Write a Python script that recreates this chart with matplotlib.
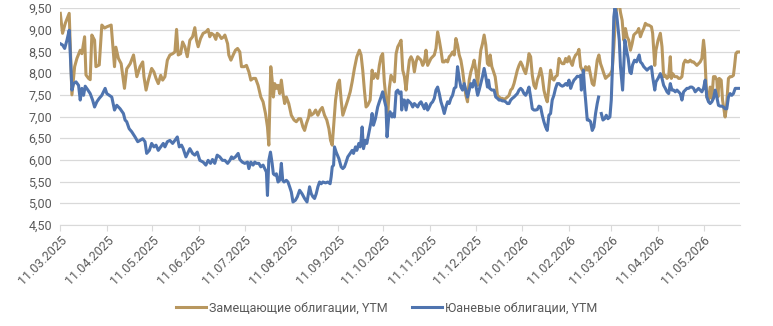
import matplotlib
matplotlib.use("Agg")
import matplotlib.pyplot as plt
import matplotlib.dates as mdates
import numpy as np
import pandas as pd

plt.rcParams['font.family'] = ['Roboto', 'DejaVu Sans']

start = pd.Timestamp("2025-03-11")

# days since 11.03.2025 and YTM, %
gold_days = [
    0.0, 1.5, 3.3, 5.9, 7.7, 9.5, 11.0, 13.2, 14.3, 16.1, 17.0, 18.7, 19.8, 20.9, 22.7, 23.6,
    25.8, 27.5, 29.3, 30.8, 33.7, 35.9, 36.8, 38.5, 40.3, 42.5, 44.0, 46.3, 48.5, 50.7,
    52.8, 54.6, 55.4, 56.8, 58.3, 60.5, 62.0, 63.4, 64.9, 66.5, 67.8, 69.3, 70.9, 72.6, 74.4,
    75.9, 77.0, 78.1, 79.7, 81.0, 82.5, 84.1, 85.8, 87.6, 89.1, 90.2, 91.3, 92.9, 94.6, 96.4,
    97.9, 99.0, 100.1, 101.7, 103.0, 103.9, 105.2, 106.7, 108.3,
    109.0, 110.8, 111.6, 113.0, 114.5, 116.0, 117.4, 118.9, 120.0, 121.8, 123.3, 124.9, 126.2,
    127.7, 129.3, 131.0, 132.8, 134.3, 135.9, 137.2, 138.1, 139.4, 140.3, 141.1, 142.0, 143.1,
    144.2, 145.3, 146.4, 147.5, 148.6, 149.7, 151.3, 153.0, 154.8, 156.3, 157.9, 159.2, 160.7,
    161.8, 163.0, 164.5,
    165.1, 166.2, 167.7, 169.1, 170.6, 172.1, 173.5, 175.0, 176.5, 177.9, 179.0, 180.1, 181.0,
    182.3, 183.8, 184.9, 186.0, 187.1, 188.9, 190.4, 192.0, 193.3, 194.8, 196.4, 198.1, 199.2,
    200.3, 201.4, 202.5, 203.6, 205.2, 206.5, 207.4, 208.7, 210.2, 211.3, 212.4, 213.5, 214.6,
    215.7, 216.8, 217.9, 219.0, 220.1,
    221.3, 222.4, 223.5, 224.6, 225.7, 226.8, 227.9, 229.0, 230.1, 231.2, 232.3, 233.4, 234.5,
    235.6, 236.7, 237.8, 238.9, 240.0, 241.1, 242.2, 243.3, 244.4, 245.5, 246.6, 247.7, 248.8,
    249.9, 251.0, 252.1, 253.2, 254.3, 255.4, 256.5, 257.6, 258.7, 259.8, 260.9, 262.0, 263.1,
    264.2, 265.3, 266.4, 267.5, 268.6, 269.7, 270.8, 271.9, 273.0, 274.1, 275.2, 276.4,
    277.4, 278.5, 279.6, 280.7, 281.8, 282.9, 284.0, 284.7, 285.8, 286.6, 288.0, 288.9, 289.5,
    290.6, 291.7, 292.8, 293.9, 295.0, 296.1, 297.2, 298.3, 299.4, 300.5, 301.6, 302.7, 303.8,
    304.9, 306.0, 307.1, 308.2, 309.3, 310.4, 311.5, 312.6, 313.7, 314.8, 315.9, 317.0, 318.1,
    319.2, 320.3, 321.4, 322.5, 323.6, 324.7, 325.8, 326.9, 328.0, 329.1, 330.3, 331.4, 332.5,
    333.6, 334.7, 335.8, 336.9, 338.0, 339.1, 340.2, 341.3, 342.4, 343.5, 344.6, 345.7, 346.8,
    347.9, 349.0, 350.1, 351.2, 352.3, 353.4, 354.5, 355.6, 356.7, 357.8, 358.9, 360.0, 361.1,
    362.2, 363.3, 364.4, 365.5, 366.6, 367.7, 368.8, 370.2, 371.0, 372.1, 373.2, 374.3, 375.4,
    376.5, 377.6, 378.7, 379.8, 380.9, 382.0, 383.1, 384.2, 385.3, 386.4, 387.5, 388.6,
    389.7, 391.5, 392.3, 393.7, 394.5, 395.9, 397.4, 398.5, 399.6, 400.7, 401.8, 402.9, 404.0,
    404.7, 405.6, 406.9, 408.4, 409.5, 410.6, 411.7, 412.8, 413.9, 415.0, 416.1, 417.2, 418.3,
    419.4, 420.5, 421.6, 422.7, 423.8, 424.9, 426.0, 426.7, 427.6, 428.2, 429.3, 430.4, 431.5,
    432.6, 433.7, 434.8, 435.5, 436.4, 437.7, 438.6, 439.5, 440.3, 441.2, 442.5, 443.6, 444.7,
    445.8, 446.5, 447.4, 448.3, 449.2,
]
gold_ytm = [
    9.38, 8.92, 9.15, 9.38, 7.50, 8.15, 8.34, 8.53, 8.45, 8.84, 7.96, 7.88, 7.85, 8.88, 8.76, 8.15,
    8.19, 9.11, 9.04, 9.07, 9.11, 8.15, 8.60, 8.34, 8.22, 7.65, 8.10, 8.22, 8.42, 7.92,
    8.15, 8.26, 7.92, 7.61, 7.84, 8.11, 8.03, 7.88, 7.76, 7.95, 7.84, 7.92, 8.30, 8.42, 8.45,
    8.49, 9.01, 8.42, 8.45, 8.72, 8.61, 8.38, 8.76, 8.84, 9.05, 8.76, 8.61, 8.80, 8.92, 8.95,
    9.01, 8.84, 8.92, 8.88, 8.78, 8.92, 8.88, 8.80, 8.84,
    8.88, 8.68, 8.42, 8.30, 8.42, 8.53, 8.57, 8.49, 8.15, 8.15, 8.18, 8.03, 7.84,
    7.88, 7.88, 7.72, 7.45, 7.34, 7.07, 6.76, 6.34, 8.15, 7.84, 7.45, 7.76, 7.65,
    7.72, 7.53, 7.84, 7.53, 7.30, 7.45, 7.30, 7.03, 6.92, 6.88, 6.95, 6.95, 6.76,
    6.68, 6.84, 6.99,
    7.15, 7.03, 7.07, 7.15, 7.03, 7.15, 7.21, 7.03, 6.92, 6.72, 6.45, 6.34, 6.76,
    7.38, 7.76, 7.84, 7.38, 7.03, 7.22, 7.38, 7.57, 7.80, 8.11, 8.38, 8.53, 8.42,
    8.07, 7.61, 7.22, 7.26, 7.38, 8.07, 7.88, 7.99, 7.88, 8.18, 8.38, 8.45, 7.80,
    7.42, 6.99, 7.65, 7.95, 7.88,
    7.80, 8.45, 8.61, 8.68, 8.76, 8.07, 7.92, 7.61, 7.99, 8.30, 8.38, 8.30, 8.03,
    8.26, 8.38, 8.34, 8.30, 8.18, 8.26, 8.53, 8.18, 8.26, 8.34, 8.38, 8.42, 8.57,
    8.95, 8.76, 8.53, 8.26, 8.26, 8.30, 8.26, 8.38, 8.42, 8.49, 8.42, 8.80, 8.65,
    8.42, 8.30, 8.07, 7.76, 7.49, 7.34, 7.84, 8.03, 8.15, 8.30, 8.07, 7.72,
    8.15, 8.53, 8.68, 8.88, 8.65, 8.22, 8.18, 8.42, 8.15, 8.07, 7.92, 7.68, 7.49,
    7.45, 7.42, 7.42, 7.39, 7.42, 7.45, 7.49, 7.61, 7.65, 7.76, 7.92, 8.07, 8.18,
    8.26, 8.18, 8.07, 7.99, 8.18, 8.45, 8.38, 7.95, 7.72, 7.65, 7.84, 7.95, 8.11,
    7.92, 7.61, 7.45, 7.34, 7.68, 8.07, 7.88, 7.84, 7.92, 7.95, 8.34, 8.26, 8.22,
    8.22, 8.34, 8.26, 8.38, 8.26, 8.18, 8.34, 8.42, 8.45, 8.55, 8.15, 8.07, 8.03,
    8.15, 8.07, 8.15, 7.95, 7.76, 7.72, 7.99, 8.30, 8.42, 8.22, 8.11, 7.99, 7.88,
    7.92, 7.95, 7.99, 8.07, 8.60, 9.30, 9.60, 9.60, 9.40, 9.22, 8.76, 9.03, 8.84,
    8.76, 8.53, 8.68, 8.88, 8.92, 8.95, 9.03, 8.84, 8.95, 9.03, 9.15, 9.11,
    9.11, 9.07, 8.92, 8.18, 8.53, 8.76, 8.92, 8.61, 7.92, 7.95, 7.88, 7.92, 8.38,
    7.88, 7.99, 7.92, 7.92, 7.88, 7.88, 7.92, 8.22, 8.30, 8.26, 8.26, 8.30, 8.26,
    8.26, 8.22, 8.18, 8.22, 8.26, 8.34, 8.76, 8.53, 7.84, 7.45, 7.38, 7.68, 7.42,
    7.92, 7.92, 7.84, 7.45, 7.88, 7.84, 7.38, 7.18, 6.99, 7.22, 7.88, 7.92, 7.92,
    7.95, 8.15, 8.45, 8.49, 8.49,
]

blue_days = [
    0.0, 1.5, 2.9, 4.4, 5.9, 7.7, 8.8, 10.4, 12.1, 13.2, 14.3, 15.4, 16.5, 18.3, 19.8, 21.4,
    22.7, 24.2, 25.8, 27.5, 28.6, 29.7, 30.8, 32.4, 34.1, 35.9, 37.4, 39.6, 41.8, 42.9, 44.0,
    45.6, 47.3, 49.5, 51.3,
    52.8, 54.6, 56.1, 57.2, 59.0, 60.5, 62.0, 63.4, 64.9, 66.5, 68.2, 69.3, 70.9, 72.6, 74.4,
    75.9, 77.5, 78.8, 80.3, 81.4, 83.2, 84.7, 85.8, 87.6, 89.1, 90.7, 92.4, 94.6, 96.4, 97.9,
    99.5, 100.8, 102.3, 103.9, 105.6, 107.4,
    109.0, 110.8, 112.3, 113.4, 114.5, 116.0, 117.8, 118.9, 120.5, 122.2, 124.0, 124.9, 126.2,
    127.7, 128.8, 129.9, 131.5, 132.8, 134.3, 135.4, 136.5, 137.2, 138.1, 139.2, 140.3, 141.1,
    142.0, 143.1, 144.2, 145.3, 146.4, 147.3, 148.2, 149.7, 150.8, 151.9, 153.0, 154.1, 155.7,
    157.0, 158.5, 160.1, 161.8, 163.4, 164.5,
    165.1, 166.2, 167.3, 168.4, 169.5, 170.6, 171.7, 172.8, 173.9, 175.7, 177.2, 178.7, 179.4,
    180.1, 181.0, 181.6, 182.7, 184.5, 186.0, 187.1, 188.2, 189.3, 190.4, 192.0, 193.3, 194.2,
    195.5, 196.4, 197.7, 198.6, 199.2, 199.9, 200.8, 202.1, 203.0, 204.3, 205.8, 206.5, 207.4,
    208.7, 210.2, 211.3, 212.4, 213.5, 214.6, 215.7, 216.4, 217.5, 218.4, 219.7, 220.6,
    221.3, 222.4, 223.5, 224.6, 225.7, 226.1, 226.8, 227.9, 229.0, 230.1, 231.2, 232.3, 233.4,
    234.5, 235.6, 236.7, 237.8, 238.9, 240.0, 241.1, 242.2, 243.3, 244.4, 245.5, 246.6, 247.7,
    248.8, 249.9, 251.0, 252.1, 253.2, 254.3, 255.4, 256.5, 257.6, 258.7, 259.8, 260.9, 262.0,
    263.1, 264.2, 265.3, 266.4, 267.5, 268.6, 269.7, 270.8, 271.9, 273.0, 274.1, 275.2, 276.4,
    277.4, 278.5, 279.6, 280.7, 281.8, 282.9, 283.6, 284.4, 285.8, 287.3, 288.4, 289.5, 290.6,
    291.7, 292.8, 293.9, 295.0, 296.1, 297.2, 298.3, 299.4, 300.5, 301.6, 302.7, 303.8, 304.9,
    306.0, 307.1, 308.2, 309.3, 310.4, 311.5, 312.6, 313.7, 314.8, 315.9, 317.0, 318.1, 319.2,
    320.3, 321.4, 322.5, 323.6, 324.7, 325.8, 326.9, 328.0, 329.1, 330.3, 331.4, 332.5,
    333.6, 334.7, 335.8, 336.9, 338.0, 339.1, 340.2, 341.3, 342.4, 343.5, 344.6, 345.1, 345.7,
    346.4, 347.3, 347.9, 349.0, 350.1, 351.2, 352.3, 353.4, 354.5, 355.6, 356.5, 357.4, 358.3,
    359.4, 360.5, 361.6, 362.7, 364.0, 364.9, 365.7, 366.6, 367.3, 368.4, 369.3, 370.2, 371.0,
    372.4, 373.2, 373.9, 375.0, 376.1, 377.2, 378.1, 379.0, 380.3, 381.6, 382.5, 383.4, 384.2,
    385.3, 386.4, 387.5, 388.6,
    389.7, 391.5, 392.3, 393.7, 394.5, 395.9, 397.4, 398.5, 399.6, 400.7, 401.8, 402.9, 404.0,
    405.1, 406.2, 407.3, 408.4, 409.5, 410.6, 411.7, 412.8, 413.9, 415.0, 416.1, 417.2, 418.3,
    419.4, 420.5, 421.6, 422.7, 423.8, 424.9, 426.0, 427.1, 428.2, 429.3, 430.4, 431.5, 432.6,
    433.7, 434.8, 435.9, 437.0, 438.1, 439.2, 440.3, 441.4, 442.5, 443.6, 444.7, 445.8, 447.0,
    448.1, 449.2,
]
blue_ytm = [
    8.68, 8.65, 8.57, 8.76, 8.99, 7.61, 7.76, 7.80, 7.72, 7.38, 7.65, 7.49, 7.70, 7.61, 7.53, 7.38,
    7.22, 7.34, 7.42, 7.49, 7.57, 7.65, 7.53, 7.49, 7.45, 7.15, 7.26, 7.18, 7.07, 6.92, 6.88,
    6.72, 6.65, 6.53, 6.42,
    6.45, 6.49, 6.42, 6.15, 6.22, 6.38, 6.30, 6.34, 6.22, 6.30, 6.38, 6.30, 6.42, 6.45, 6.38,
    6.45, 6.53, 6.30, 6.34, 6.26, 6.07, 6.18, 6.26, 6.15, 6.11, 6.18, 5.99, 5.95, 5.88, 5.99,
    5.92, 6.01, 5.92, 6.11, 6.07, 5.99,
    5.99, 5.92, 5.99, 6.07, 6.03, 6.07, 6.15, 6.01, 5.95, 5.92, 5.95, 5.80, 5.95,
    5.88, 5.95, 5.92, 5.92, 5.84, 5.88, 5.80, 5.72, 5.18, 5.99, 6.18, 5.92, 5.68,
    5.65, 5.68, 5.49, 5.53, 5.92, 5.53, 5.49, 5.53, 5.49, 5.38, 5.26, 5.03, 5.07,
    5.15, 5.30, 5.22, 5.11, 5.03, 5.26,
    5.38, 5.22, 5.15, 5.11, 5.22, 5.38, 5.49, 5.45, 5.49, 5.47, 5.49, 5.45, 5.61,
    5.84, 5.88, 6.30, 6.18, 6.03, 5.84, 5.80, 5.84, 5.95, 6.07, 6.15, 6.22, 6.15,
    6.30, 6.22, 6.38, 6.30, 6.45, 6.76, 6.26, 6.45, 6.38, 6.61, 6.88, 7.07, 6.80,
    6.95, 7.22, 7.34, 7.45, 7.57, 7.38, 7.22, 6.53, 6.99, 7.11, 6.99, 7.07,
    6.99, 7.57, 7.61, 7.53, 7.57, 7.15, 7.38, 7.38, 7.15, 7.38, 7.34, 7.30, 7.22,
    7.30, 7.26, 7.22, 7.30, 7.34, 7.26, 7.18, 7.30, 7.15, 7.22, 7.30, 7.34, 7.42,
    7.61, 7.68, 7.53, 7.34, 7.22, 7.07, 7.22, 7.34, 7.30, 7.42, 7.49, 7.65, 7.68,
    8.15, 7.88, 7.68, 7.61, 7.76, 7.61, 7.45, 7.61, 7.76, 7.68, 7.84, 7.72, 7.49,
    7.61, 7.76, 7.92, 8.11, 7.92, 7.68, 7.84, 7.65, 7.61, 7.61, 7.45, 7.42, 7.38,
    7.38, 7.36, 7.36, 7.34, 7.30, 7.30, 7.38, 7.42, 7.45, 7.49, 7.53, 7.61, 7.65,
    7.61, 7.53, 7.49, 7.57, 7.68, 7.45, 7.18, 7.15, 7.15, 7.16, 7.24, 7.22, 7.03,
    6.88, 6.76, 6.68, 7.03, 7.07, 7.38, 7.49, 7.65, 7.76, 7.76, 7.72, 7.70,
    7.72, 7.76, 7.72, 7.84, 7.65, 7.76, 7.84, 7.88, 7.93, 7.92, 7.95, 7.61, 7.80,
    8.07, 7.61, 7.38, 6.92, 6.92, 6.88, 6.68, 6.76, 7.07, 7.30, 7.45, np.nan, 7.07,
    6.92, 6.95, 7.03, 6.95, 6.99, 7.38, 8.15, 9.30, 9.50, 9.38, 9.07, 8.76, 8.15,
    7.61, 8.19, 8.76, 8.53, 8.34, 8.03, 7.99, 8.19, 8.30, 8.26, 8.34, 8.42, 8.26,
    8.22, 8.15, 8.11, 8.07,
    8.11, 8.15, 7.92, 7.61, 7.80, 7.88, 7.99, 7.88, 7.72, 7.65, 7.57, 7.53, 7.76,
    7.61, 7.61, 7.57, 7.61, 7.57, 7.53, 7.38, 7.57, 7.61, 7.65, 7.65, 7.68, 7.68,
    7.65, 7.57, 7.61, 7.65, 7.61, 7.57, 7.65, 7.84, 7.45, 7.34, 7.30, 7.34, 7.42,
    7.61, 7.45, 7.26, 7.24, 7.24, 7.22, 7.18, 7.18, 7.45, 7.53, 7.49, 7.53, 7.65,
    7.65, 7.65,
]

gold_dates = start + pd.to_timedelta(gold_days, unit="D")
blue_dates = start + pd.to_timedelta(blue_days, unit="D")

gold_color = "#b8975f"
blue_color = "#4f74af"
grid_color = "#d9d9d9"
text_color = "#595959"

fig = plt.figure(figsize=(7.73, 3.26), dpi=100)
ax = fig.add_axes([0.078, 0.31, 0.879, 0.665])

ax.plot(gold_dates, gold_ytm, color=gold_color, lw=2.2, label="Замещающие облигации, YTM")
ax.plot(blue_dates, blue_ytm, color=blue_color, lw=2.2, label="Юаневые облигации, YTM")

ax.set_ylim(4.5, 9.5)
ax.set_yticks(np.arange(4.5, 9.51, 0.5))
ax.yaxis.set_major_formatter(lambda v, p: f"{v:.2f}".replace(".", ","))
ax.grid(axis="y", color=grid_color, lw=0.9)
ax.set_axisbelow(True)

# ticks on the 11th of every month
ax.set_xlim(start, start + pd.Timedelta(days=450))
ticks = pd.date_range("2025-03-01", "2026-05-01", freq="MS") + pd.Timedelta(days=10)
ax.set_xticks(ticks)
ax.xaxis.set_major_formatter(mdates.DateFormatter("%d.%m.%Y"))
plt.setp(ax.get_xticklabels(), rotation=45, ha="right", rotation_mode="anchor")

for side in ["top", "right", "left"]:
    ax.spines[side].set_visible(False)
ax.spines["bottom"].set_color(grid_color)
ax.tick_params(axis="y", length=0, labelsize=9, colors=text_color, pad=6)
ax.tick_params(axis="x", length=4, color=grid_color, labelsize=9, labelcolor=text_color, pad=2)

fig.legend(loc="lower center", bbox_to_anchor=(0.5, 0.0), ncol=2, frameon=False,
           fontsize=9, labelcolor=text_color, handlelength=2.4, handletextpad=0.2,
           columnspacing=2.0)

fig.savefig("out.png", dpi=100)
